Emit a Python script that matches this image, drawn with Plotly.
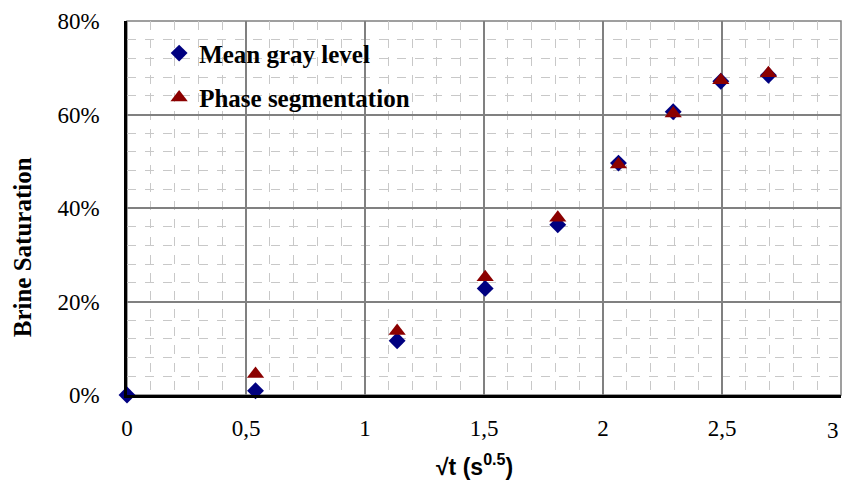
import plotly.graph_objects as go

x_vals = [0.0, 0.54, 1.135, 1.505, 1.81, 2.065, 2.295, 2.495, 2.695]
mean_gray = [0.0, 0.009, 0.116, 0.228, 0.364, 0.496, 0.606, 0.671, 0.684]
x_phase = [0.54, 1.135, 1.505, 1.81, 2.065, 2.295, 2.495, 2.695]
phase_seg = [0.045, 0.137, 0.252, 0.379, 0.493, 0.602, 0.673, 0.688]
x_ticks = [0, 0.5, 1, 1.5, 2, 2.5]
x_tick_text = ["0", "0,5", "1", "1,5", "2", "2,5"]
x_last_tick = 3
x_last_text = "3"
y_ticks = [0, 0.2, 0.4, 0.6, 0.8]
y_tick_text = ["0%", "20%", "40%", "60%", "80%"]
x_title = "<b>√t (s<sup>0.5</sup>)</b>"
y_title = "<b>Brine Saturation</b>"

serif = "Liberation Serif, Times New Roman, serif"
narrow = "Liberation Sans Narrow, Arial Narrow, Liberation Sans, sans-serif"

fig = go.Figure()
fig.add_trace(go.Scatter(
    x=x_vals, y=mean_gray, mode="markers", name="<b>Mean gray level</b>",
    legendgroup="a",
    marker=dict(symbol="diamond", size=13, color="#000080"),
    cliponaxis=False,
))
fig.add_trace(go.Scatter(
    x=x_phase, y=phase_seg, mode="markers", name="<b>Phase segmentation</b>",
    legendgroup="b",
    marker=dict(symbol="triangle-up", size=15, color="#8B0000"),
    cliponaxis=False,
))

fig.update_layout(
    width=842, height=487,
    margin=dict(l=127, r=1, t=21, b=92),
    paper_bgcolor="white", plot_bgcolor="white",
    font=dict(family=serif, size=22, color="black"),
    showlegend=True,
    legend=dict(x=0.045, y=0.975, xanchor="left", yanchor="top",
                bgcolor="rgba(0,0,0,0)", font=dict(family=serif, size=25, color="black"),
                tracegroupgap=9),
    xaxis=dict(
        range=[0, 3], tickvals=x_ticks, ticktext=x_tick_text,
        showgrid=True, gridcolor="#808080", gridwidth=1.5,
        minor=dict(dtick=0.1, showgrid=True, gridcolor="#c8c8c8", griddash="dash", gridwidth=1),
        showline=True, linecolor="black", linewidth=2.5,
        zeroline=False, ticks="", ticklabelstandoff=11,
        tickfont=dict(family=serif, size=23),
    ),
    yaxis=dict(
        range=[0, 0.8], tickvals=y_ticks, ticktext=y_tick_text,
        showgrid=True, gridcolor="#808080", gridwidth=1.5,
        minor=dict(dtick=0.04, showgrid=True, gridcolor="#c8c8c8", griddash="dash", gridwidth=1),
        showline=True, linecolor="black", linewidth=2.5,
        zeroline=False, ticks="", ticklabelstandoff=20,
        tickfont=dict(family=serif, size=23),
    ),
    shapes=[dict(type="rect", xref="paper", yref="paper", x0=0, x1=1, y0=0, y1=1,
                 line=dict(color="#808080", width=1.5), layer="below")],
    annotations=[
        dict(x=x_last_tick, y=0, xref="x", yref="paper", text=x_last_text,
             showarrow=False, yanchor="top", xanchor="right", yshift=-21,
             font=dict(family=serif, size=23, color="black")),
        dict(x=0.4865, y=0, xref="paper", yref="paper", text=x_title,
             showarrow=False, yanchor="middle", xanchor="center", yshift=-70,
             font=dict(family=narrow, size=23, color="black")),
        dict(x=0, y=0.395, xref="paper", yref="paper", text=y_title, textangle=-90,
             showarrow=False, yanchor="middle", xanchor="center", xshift=-105,
             font=dict(family=serif, size=25, color="black")),
    ],
)

fig.write_html("out.html")
